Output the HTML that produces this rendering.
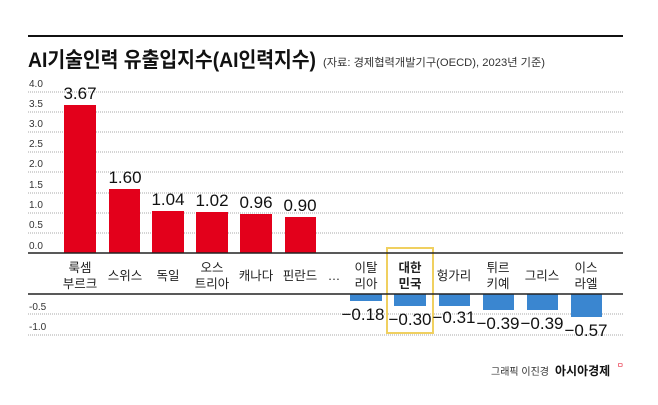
<!DOCTYPE html>
<html><head><meta charset="utf-8"><style>
body{margin:0;background:#fff;}
svg text{font-family:"Liberation Sans","Noto Sans CJK KR",sans-serif;}
</style></head><body>
<svg width="658" height="400" viewBox="0 0 658 400" xmlns="http://www.w3.org/2000/svg">
<rect width="658" height="400" fill="#fff"/>
<line x1="28" y1="36" x2="623" y2="36" stroke="#111" stroke-width="2"/>
<text x="28" y="67" font-size="21" font-weight="bold" fill="#111" textLength="288" lengthAdjust="spacingAndGlyphs">AI기술인력 유출입지수(AI인력지수)</text>
<text x="323" y="66" font-size="11" fill="#333" textLength="222" lengthAdjust="spacingAndGlyphs">(자료: 경제협력개발기구(OECD), 2023년 기준)</text>
<g stroke="#aaa" stroke-width="1" stroke-dasharray="1,1">
<line x1="28" y1="92" x2="623" y2="92"/><line x1="28" y1="112" x2="623" y2="112"/>
<line x1="28" y1="132" x2="623" y2="132"/><line x1="28" y1="152" x2="623" y2="152"/>
<line x1="28" y1="172" x2="623" y2="172"/><line x1="28" y1="193" x2="623" y2="193"/>
<line x1="28" y1="213" x2="623" y2="213"/><line x1="28" y1="233" x2="623" y2="233"/>
<line x1="28" y1="314" x2="623" y2="314"/><line x1="28" y1="335" x2="623" y2="335"/>
</g>
<g font-size="10" fill="#333">
<text x="29" y="87">4.0</text><text x="29" y="107">3.5</text><text x="29" y="127">3.0</text>
<text x="29" y="147">2.5</text><text x="29" y="167">2.0</text><text x="29" y="188">1.5</text>
<text x="29" y="208">1.0</text><text x="29" y="228">0.5</text><text x="29" y="249">0.0</text>
<text x="29" y="310">-0.5</text><text x="29" y="330">-1.0</text>
</g>
<rect x="387" y="248" width="46" height="85" fill="none" stroke="#f0d060" stroke-width="2"/>
<g fill="#e3001b">
<rect x="64" y="105" width="32" height="148"/>
<rect x="109" y="189" width="31" height="64"/>
<rect x="152" y="211" width="32" height="42"/>
<rect x="196" y="212" width="32" height="41"/>
<rect x="240" y="214" width="32" height="39"/>
<rect x="285" y="217" width="31" height="36"/>
</g>
<g fill="#3a86d0">
<rect x="350" y="294" width="32" height="7"/>
<rect x="394" y="294" width="32" height="12"/>
<rect x="439" y="294" width="31" height="12"/>
<rect x="483" y="294" width="31" height="16"/>
<rect x="527" y="294" width="31" height="16"/>
<rect x="571" y="294" width="31" height="23"/>
</g>
<line x1="28" y1="253" x2="623" y2="253" stroke="#222" stroke-width="1.5"/>
<line x1="28" y1="294" x2="623" y2="294" stroke="#222" stroke-width="1.5"/>
<g font-size="17" fill="#111" text-anchor="middle">
<text x="80" y="99">3.67</text><text x="125" y="183">1.60</text>
<text x="168" y="205">1.04</text><text x="212" y="206">1.02</text>
<text x="256" y="208">0.96</text><text x="300" y="211">0.90</text>
<text x="363" y="320">−0.18</text><text x="410" y="325">−0.30</text>
<text x="454" y="323">−0.31</text><text x="498" y="329">−0.39</text>
<text x="542" y="329">−0.39</text><text x="586" y="336">−0.57</text>
</g>
<g font-size="12.5" fill="#222" text-anchor="middle">
<text x="80" y="272">룩셈</text><text x="80" y="288">부르크</text>
<text x="125" y="280">스위스</text>
<text x="168" y="280">독일</text>
<text x="212" y="272">오스</text><text x="212" y="288">트리아</text>
<text x="256" y="280">캐나다</text>
<text x="300" y="280">핀란드</text>
<text x="334" y="280">…</text>
<text x="366" y="272">이탈</text><text x="366" y="288">리아</text>
<text x="410" y="272" font-weight="bold">대한</text><text x="410" y="288" font-weight="bold">민국</text>
<text x="454" y="280">헝가리</text>
<text x="498" y="272">튀르</text><text x="498" y="288">키예</text>
<text x="542" y="280">그리스</text>
<text x="586" y="272">이스</text><text x="586" y="288">라엘</text>
</g>
<text x="491" y="375" font-size="10" fill="#333">그래픽 이진경</text>
<text x="555" y="375" font-size="12" font-weight="bold" fill="#111">아시아경제</text>
<text x="617" y="369" font-size="7" fill="#e3001b">ᄆ</text>
</svg>
</body></html>
